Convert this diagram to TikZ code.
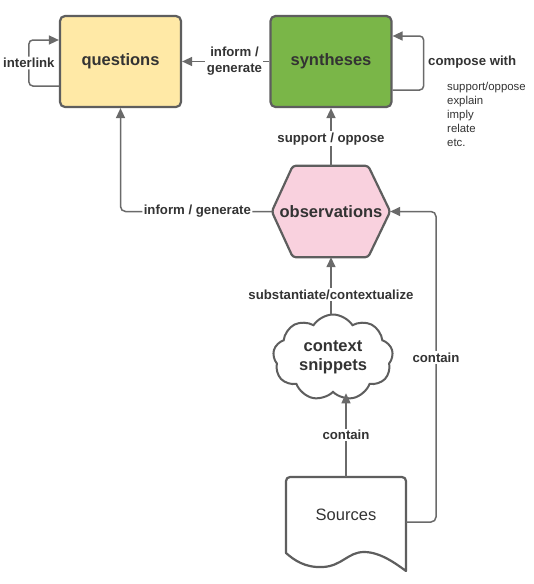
\documentclass[tikz,border=0pt]{standalone}
\usepackage{fontspec}
\setmainfont{Liberation Sans}
\usetikzlibrary{shapes.symbols,arrows.meta,backgrounds}
\definecolor{qfill}{HTML}{FFE9A6}
\definecolor{sfill}{HTML}{7AB648}
\definecolor{ofill}{HTML}{F9D1DE}
\definecolor{border}{HTML}{5E5E5E}
\definecolor{connc}{HTML}{6A6A6A}
\definecolor{txt}{HTML}{333333}
\tikzset{
  titlefont/.style={font=\bfseries\fontsize{16.5}{19}\selectfont, text=txt},
  box/.style={draw=border, line width=2.2pt, rounded corners=5pt, minimum width=121pt, minimum height=91pt, titlefont},
  shapeline/.style={draw=border, line width=2.2pt},
  conn/.style={draw=connc, line width=1.5pt, -{Triangle[length=10pt,width=9pt]}},
  lab/.style={font=\bfseries\fontsize{13.2}{16}\selectfont, text=txt, fill=white, inner sep=1.5pt},
  labnf/.style={font=\bfseries\fontsize{13.2}{16}\selectfont, text=txt, inner sep=1.5pt},
}
\begin{document}
\begin{tikzpicture}[x=1pt,y=-1pt]
\useasboundingbox (0,0) rectangle (534,584);

% boxes
\node[box, fill=qfill] (q) at (120.5,61.5) {\raisebox{-1pt}{questions}};
\node[box, fill=sfill] (s) at (331,61.5) {\raisebox{-1pt}{syntheses}};

% observations hexagon
\node[titlefont, minimum width=118pt, minimum height=91pt, inner sep=0pt] (o) at (331,211.5) {observations};

% cloud
\node[cloud, cloud puffs=9, cloud puff arc=115, aspect=1.35, draw=border, line width=2pt, fill=white,
      minimum width=120pt, minimum height=86pt, inner sep=0pt, titlefont, align=center] (c) at (333,357.5) {context\\snippets};

% sources document
\node[minimum width=120pt, minimum height=76pt, inner sep=0pt, font=\fontsize{16.5}{19}\selectfont, text=txt] (src) at (346,515) {\raisebox{1.5pt}{Sources}};

\begin{scope}[on background layer]
\fill[white] (0,0) rectangle (534,584);
\draw[shapeline, fill=ofill, rounded corners=3pt]
  ([xshift=21pt]o.north west) -- ([xshift=-22pt]o.north east) -- (o.east)
  -- ([xshift=-22pt]o.south east) -- ([xshift=21pt]o.south west) -- (o.west) -- cycle;
\draw[shapeline, fill=white, line join=round]
  (286,553) -- (286,481) arc[start angle=180, end angle=90, radius=4pt] -- (402,477)
  arc[start angle=90, end angle=0, radius=4pt] -- (406,571)
  .. controls (395,563) and (380,552) .. (364,552)
  .. controls (348,552) and (342,566) .. (323,567)
  .. controls (305,568) and (294,560) .. (286,553) -- cycle;
\end{scope}

% connectors
\draw[conn] (s.west) -- (q.east) node[pos=0.4, lab, align=center] {inform /\\generate};
\draw[conn, rounded corners=4pt] ([yshift=-24.5pt]q.west) -- ++(-30,0) |- ([yshift=21.5pt]q.west)
  node[pos=0.25, lab] {interlink};
\draw[conn, rounded corners=4pt] ([yshift=-28.5pt]s.east) -- ++(31,0) |- ([yshift=25.5pt]s.east);
\node[labnf, anchor=west] (cw) at (426.5,62) {compose with};
\node[anchor=north west, align=left, font=\fontsize{11.4}{14}\selectfont, text=txt, inner sep=0pt] (list) at (447,82)
  {support/oppose\\explain\\imply\\relate\\etc.};

\draw[conn] (o.north) -- (s.south) node[pos=0.47, lab] {support / oppose};
\draw[conn, rounded corners=5pt] (o.west) -| (q.south) node[pos=0.246, lab] {inform / generate};
\draw[conn] (c.north -| o.south) -- (o.south) node[pos=0.34, lab] {substantiate/contextualize};
\draw[conn] (src.north) -- (c.south -| src.north) node[midway, lab] {contain};
\coordinate (k) at (436,522);
\draw[conn, rounded corners=5pt] ([yshift=-7pt]src.east) -- (k) |- (o.east) node[pos=0.265, lab] {contain};
\end{tikzpicture}
\end{document}
